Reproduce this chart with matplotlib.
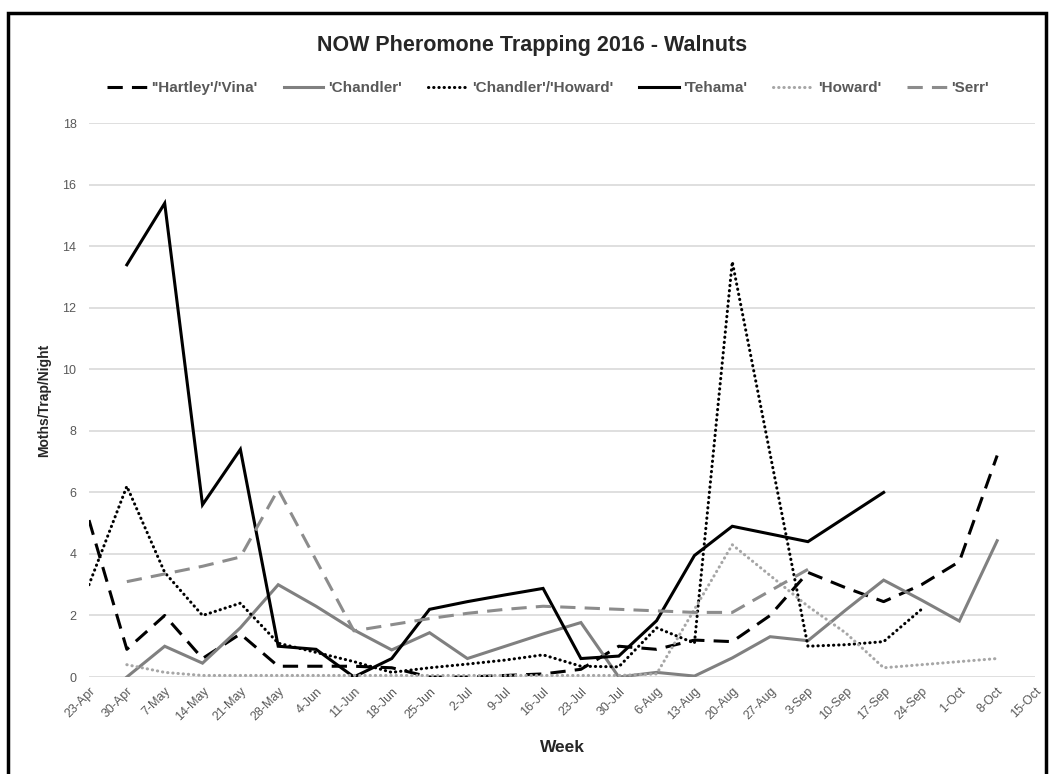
import numpy as np
import matplotlib
matplotlib.use("Agg")
import matplotlib.pyplot as plt
from matplotlib.patches import Rectangle

weeks = ["23-Apr", "30-Apr", "7-May", "14-May", "21-May", "28-May", "4-Jun", "11-Jun",
         "18-Jun", "25-Jun", "2-Jul", "9-Jul", "16-Jul", "23-Jul", "30-Jul", "6-Aug",
         "13-Aug", "20-Aug", "27-Aug", "3-Sep", "10-Sep", "17-Sep", "24-Sep", "1-Oct",
         "8-Oct", "15-Oct"]

N = None
hartley_vina = [5.1, 0.9, 2.0, 0.6, 1.4, 0.35, 0.35, 0.35, 0.3, 0.0, 0.0, 0.05, 0.1, 0.25,
                1.0, 0.9, 1.2, 1.15, 2.0, 3.4, 2.9, 2.45, 3.0, 3.75, 7.2, N]
chandler = [N, 0.0, 1.0, 0.45, 1.6, 3.0, 2.3, 1.53, 0.88, 1.44, 0.6, 1.0, 1.4, 1.77,
            0.0, 0.15, 0.03, 0.62, 1.31, 1.18, 2.18, 3.15, 2.5, 1.82, 4.43, N]
chandler_howard = [3.0, 6.2, 3.4, 2.0, 2.4, 1.1, 0.8, 0.5, 0.15, 0.3, 0.42, 0.55, 0.72, 0.35,
                   0.33, 1.6, 1.1, 13.5, 7.25, 1.0, 1.05, 1.15, 2.2, N, N, N]
tehama = [N, 13.4, 15.4, 5.6, 7.4, 1.0, 0.9, 0.0, 0.6, 2.2, 2.45, 2.67, 2.88, 0.6,
          0.68, 1.83, 3.95, 4.9, 4.65, 4.4, 5.2, 6.0, N, N, N, N]
howard = [N, 0.4, 0.15, 0.05, 0.05, 0.05, 0.05, 0.05, 0.05, 0.05, 0.05, 0.05, 0.05, 0.05,
          0.05, 0.1, 2.2, 4.3, 3.3, 2.3, 1.43, 0.3, 0.4, 0.5, 0.6, N]
serr = [N, 3.1, 3.35, 3.6, 3.9, 6.1, 3.8, 1.5, 1.7, 1.9, 2.07, 2.2, 2.3, 2.25,
        2.2, 2.15, 2.1, 2.1, 2.8, 3.5, N, N, N, N, N, N]

labels = ["''Hartley'/'Vina'", "'Chandler'", "'Chandler'/'Howard'", "'Tehama'", "'Howard'", "'Serr'"]

def arr(v):
    return np.array([np.nan if a is None else a for a in v], dtype=float)

plt.rcParams['font.family'] = ['Liberation Sans', 'DejaVu Sans']

fig = plt.figure(figsize=(10.5, 7.74), dpi=100)
ax = fig.add_axes([89/1050, 1-677/774, (1035-89)/1050, (677-123.3)/774])

x = np.arange(len(weeks))
lw = 2.2
styles = [
    dict(color='black', linestyle=(0, (5, 3)), dash_capstyle='butt'),
    dict(color='#808080', linestyle='-'),
    dict(color='black', linestyle=(0, (0.1, 1.6)), dash_capstyle='round'),
    dict(color='black', linestyle='-'),
    dict(color='#a6a6a6', linestyle=(0, (0.1, 1.6)), dash_capstyle='round'),
    dict(color='#8c8c8c', linestyle=(0, (5, 3)), dash_capstyle='butt'),
]
series = [hartley_vina, chandler, chandler_howard, tehama, howard, serr]
handles = []
for s, st, lab in zip(series, styles, labels):
    h, = ax.plot(x, arr(s), lw=lw, label=lab, solid_joinstyle='miter', **st)
    handles.append(h)

ax.set_xlim(0, len(weeks) - 1)
ax.set_ylim(0, 18)
ax.set_yticks(np.arange(0, 19, 2))
ax.set_xticks(x)
ax.set_xticklabels(weeks, rotation=45, ha='right', rotation_mode='anchor')
ax.tick_params(axis='both', length=0, labelsize=9, labelcolor='#595959')
ax.tick_params(axis='y', pad=9)
ax.tick_params(axis='x', pad=6)
ax.grid(axis='y', color='#d9d9d9', lw=1.2)
ax.set_axisbelow(True)
for sp in ax.spines.values():
    sp.set_visible(False)

ax.set_ylabel('Moths/Trap/Night', fontsize=10, fontweight='bold', color='#262626', labelpad=8)
ax.set_xlabel('Week', fontsize=12.5, fontweight='bold', color='#262626', labelpad=12)

fig.text(532/1050, 1-45/774, 'NOW Pheromone Trapping 2016 - Walnuts', ha='center', va='center',
         fontsize=15.5, fontweight='bold', color='#262626')

fig.legend(handles=handles, loc='center', bbox_to_anchor=(548/1050, 1-88/774), ncol=6,
           frameon=False, handlelength=2.6, columnspacing=1.7, handletextpad=0.3,
           labelcolor='#595959', prop={'weight': 'bold', 'size': 11})

fig.patches.append(Rectangle((8/1050, -0.02), (1046-8)/1050, (774-13)/774 + 0.02,
                             transform=fig.transFigure, fill=False, lw=2.5, ec='black'))

fig.savefig('out.png', dpi=100)
